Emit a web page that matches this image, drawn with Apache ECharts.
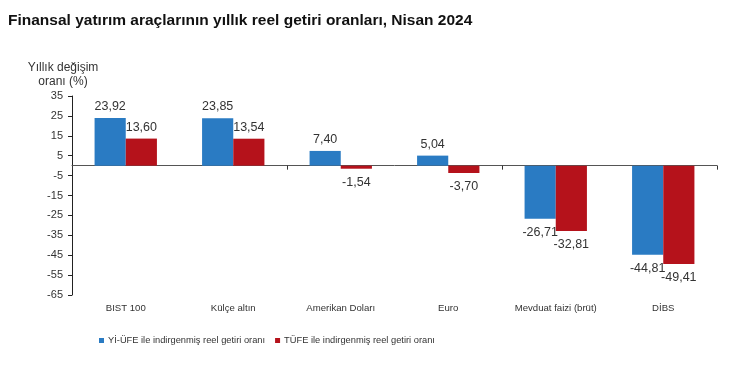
<!DOCTYPE html>
<html><head><meta charset="utf-8">
<script src="https://cdn.jsdelivr.net/npm/echarts@6/dist/echarts.min.js"></script>
<style>html,body{margin:0;padding:0;background:#fff}#c{width:750px;height:379px}</style>
</head><body><div id="c"></div>
<script>
const categories = ['BIST 100', 'Külçe altın', 'Amerikan Doları', 'Euro', 'Mevduat faizi (brüt)', 'DİBS'];
const yiUfe = [23.92, 23.85, 7.40, 5.04, -26.71, -44.81];
const tufe = [13.60, 13.54, -1.54, -3.70, -32.81, -49.41];
const seriesNames = ['Yİ-ÜFE ile indirgenmiş reel getiri oranı', 'TÜFE ile indirgenmiş reel getiri oranı'];
const yMin = -65, yMax = 35, yStep = 10;

const font = 'Liberation Sans, Arial, sans-serif';
const fmt = v => v.toFixed(2).replace('.', ',');
const lbl = {
  show: true, fontFamily: font, fontSize: 12.5, color: '#333',
  formatter: p => fmt(p.value)
};
function mk(name, data, color) {
  return {
    name, type: 'bar', data: data.map(v => ({
      value: v, label: { position: v >= 0 ? 'top' : 'bottom', distance: v >= 0 ? 5 : 7 }
    })),
    itemStyle: { color }, barGap: '0%', barCategoryGap: '42%',
    label: lbl, xAxisIndex: 0
  };
}
const chart = echarts.init(document.getElementById('c'));
chart.setOption({
  animation: false,
  title: { text: 'Finansal yatırım araçlarının yıllık reel getiri oranları, Nisan 2024', left: 3, top: 8,
    textStyle: { fontFamily: font, fontSize: 15.5, fontWeight: 'bold', color: '#111' } },
  grid: { left: 72, right: 33, top: 96, bottom: 84 },
  legend: {
    left: 94, top: 331, itemWidth: 5, itemHeight: 5, itemGap: 10, icon: 'rect',
    textStyle: { fontFamily: font, fontSize: 9.3, color: '#333', padding: [0, 0, 0, -1] },
    data: seriesNames
  },
  xAxis: [{
    type: 'category', data: categories, position: 'bottom',
    axisLine: { show: false, onZero: false }, axisTick: { show: false },
    axisLabel: { fontFamily: font, fontSize: 9.6, color: '#333', margin: 8, interval: 0 }
  }, {
    type: 'category', data: categories, position: 'bottom',
    axisLine: { show: true, onZero: true, lineStyle: { color: '#555', width: 1 } },
    axisTick: { show: true, length: 4, lineStyle: { color: '#333' } },
    axisLabel: { show: false }
  }],
  yAxis: {
    type: 'value', min: yMin, max: yMax, interval: yStep,
    name: 'Yıllık değişim\noranı (%)', nameLocation: 'end', nameGap: 7,
    nameTextStyle: { fontFamily: font, fontSize: 12, lineHeight: 14, color: '#333', align: 'center', padding: [0, 0, 0, -18] },
    axisLine: { show: true, lineStyle: { color: '#222' } },
    axisTick: { show: true, length: 4, lineStyle: { color: '#222' } },
    splitLine: { show: false },
    axisLabel: { fontFamily: font, fontSize: 11, color: '#333', margin: 9 }
  },
  series: [mk(seriesNames[0], yiUfe, '#2a7bc3'), mk(seriesNames[1], tufe, '#b5121b')]
});
</script></body></html>
